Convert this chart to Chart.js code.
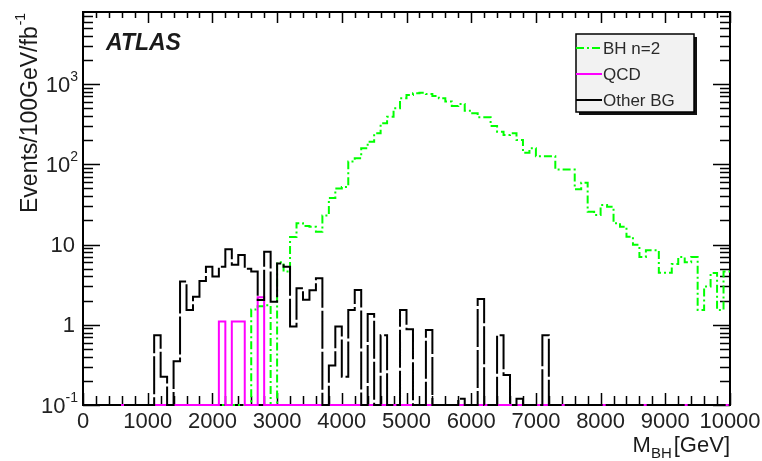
<!DOCTYPE html>
<html>
<head>
<meta charset="utf-8">
<script src="https://cdn.jsdelivr.net/npm/chart.js@4/dist/chart.umd.min.js"></script>
<style>
  body { margin: 0; background: #fff; }
  canvas { display: block; }
</style>
</head>
<body>
<canvas id="c" width="762" height="461"></canvas>
<script>
// 100 GeV bins, lower edges 0 ... 9900
var binLow = Array.from({ length: 100 }, function(_, i) { return i * 100; });
var xMax = 10000;

// BH n=2 signal
var bhN2 = [
    0, 0, 0, 0, 0, 0, 0, 0, 0, 0,
    0, 0, 0, 0, 0, 0, 0, 0, 0, 0,
    0, 0, 0, 0, 0, 0, 1.55, 1.7, 1.75, 0,
    6.0, 4.6, 12.4, 18.4, 17, 16.6, 14.4, 23, 38, 50,
    52, 108, 119, 158, 191, 243, 324, 391, 498, 664,
    730, 766, 777, 750, 709, 664, 605, 532, 563, 465,
    431, 385, 385, 300, 255, 231, 243, 200, 139, 158,
    126, 126, 126, 86, 86, 86, 49, 59, 25.6, 23.3,
    31, 29.6, 18.4, 16.7, 12.5, 9.9, 7.0, 8.5, 8.5, 4.45,
    4.45, 5.7, 7.0, 6.0, 7.0, 1.53, 3.0, 4.4, 1.53, 4.6
];

// QCD
var qcd = [
    0, 0, 0, 0, 0, 0, 0, 0, 0, 0,
    0, 0, 0, 0, 0, 0, 0, 0, 0, 0,
    0, 1.1, 0, 1.1, 1.1, 0, 0, 2.2, 0, 0,
    0, 0, 0, 0, 0, 0, 0, 0, 0, 0,
    0, 0, 0, 0, 0, 0, 0, 0, 0, 0,
    0, 0, 0, 0, 0, 0, 0, 0, 0, 0,
    0, 0, 0, 0, 0, 0, 0, 0, 0, 0,
    0, 0, 0, 0, 0, 0, 0, 0, 0, 0,
    0, 0, 0, 0, 0, 0, 0, 0, 0, 0,
    0, 0, 0, 0, 0, 0, 0, 0, 0, 0
];

// other backgrounds
var otherBG = [
    0, 0, 0, 0, 0, 0, 0, 0, 0, 0,
    0, 0.74, 0.225, 0, 0.35, 3.45, 1.53, 2.24, 3.5, 5.3,
    4.0, 5.3, 8.7, 5.6, 7.4, 5.0, 4.6, 2.03, 8.1, 1.94,
    5.8, 5.3, 0.95, 2.85, 2.05, 2.7, 3.8, 0, 0.31, 0.95,
    0.225, 1.53, 2.71, 0, 1.36, 0, 0.74, 0, 0, 1.53,
    0.88, 0, 0, 0.86, 0, 0, 0, 0, 0.12, 0,
    0, 2.1, 0, 0, 0.74, 0.236, 0, 0.12, 0, 0,
    0, 0.74, 0, 0, 0, 0, 0, 0, 0, 0,
    0, 0, 0, 0, 0, 0, 0, 0, 0, 0,
    0, 0, 0, 0, 0, 0, 0, 0, 0, 0
];

var xTicks = [0, 1000, 2000, 3000, 4000, 5000, 6000, 7000, 8000, 9000, 10000];
var yTicks = [0.1, 1, 10, 100, 1000];
var yMin = 0.1, yMax = 7900;

var FONT = '"Liberation Sans", Arial, Helvetica, sans-serif';

// empty bins sit on the axis, like ROOT draws them
function histPoints(vals) {
    var pts = binLow.map(function(x, i) {
        return { x: x, y: vals[i] > 0 ? vals[i] : yMin };
    });
    pts.push({ x: xMax, y: pts[pts.length - 1].y });
    return pts;
}

// frame + inward ticks (drawn under the histograms)
var framePlugin = {
    id: 'frame',
    beforeDatasetsDraw: function(chart) {
        var ctx = chart.ctx, a = chart.chartArea;
        var xs = chart.scales.x, ys = chart.scales.y;
        ctx.save();
        ctx.strokeStyle = '#000';
        ctx.lineWidth = 2;
        ctx.strokeRect(a.left, a.top, a.right - a.left, a.bottom - a.top);

        ctx.lineWidth = 1.5;
        ctx.beginPath();
        for (var v = 0; v <= xMax; v += 200) {
            var px = Math.round(xs.getPixelForValue(v)) + 0.5;
            var major = v % 1000 === 0;
            ctx.moveTo(px, a.bottom);
            ctx.lineTo(px, a.bottom - (major ? 12 : 9));
            ctx.moveTo(px, a.top);
            ctx.lineTo(px, a.top + (major ? 11 : 6));
        }
        for (var e = -1; e <= 3; e++) {
            for (var m = 1; m <= 9; m++) {
                var val = m * Math.pow(10, e);
                if (val > yMax) break;
                var py = Math.round(ys.getPixelForValue(val)) + 0.5;
                var len = m === 1 ? 17 : 10;
                ctx.moveTo(a.left, py);
                ctx.lineTo(a.left + len, py);
                ctx.moveTo(a.right, py);
                ctx.lineTo(a.right - len, py);
            }
        }
        ctx.stroke();

        // y tick labels with superscripts
        ctx.fillStyle = '#222';
        ctx.textBaseline = 'middle';
        yTicks.forEach(function(t) {
            var py = ys.getPixelForValue(t);
            var exp = Math.round(Math.log10(t));
            var right = 78;
            if (exp === 0 || exp === 1) {
                ctx.font = '22px ' + FONT;
                ctx.textAlign = 'right';
                ctx.fillText(exp === 0 ? '1' : '10', right - 3, py + 1);
            } else {
                var sup = exp < 0 ? '-' + (-exp) : String(exp);
                ctx.font = '14px ' + FONT;
                var ws = ctx.measureText(sup).width;
                ctx.textAlign = 'right';
                ctx.fillText(sup, right, py - 7);
                ctx.font = '22px ' + FONT;
                ctx.fillText('10', right - ws, py + 2);
            }
        });
        ctx.restore();
    }
};

// titles, ATLAS label and the legend box
var textPlugin = {
    id: 'texts',
    afterDraw: function(chart) {
        var ctx = chart.ctx, a = chart.chartArea;
        ctx.save();
        ctx.fillStyle = '#1a1a1a';
        ctx.textBaseline = 'alphabetic';
        ctx.textAlign = 'left';

        // y title
        ctx.save();
        ctx.translate(37, 213);
        ctx.rotate(-Math.PI / 2);
        ctx.font = '23px ' + FONT;
        var yt = 'Events/100GeV/fb';
        ctx.fillText(yt, 0, 0);
        var w = ctx.measureText(yt).width;
        ctx.font = '14px ' + FONT;
        ctx.fillText('-1', w + 1, -12);
        ctx.restore();

        // x title
        ctx.font = '22px ' + FONT;
        var wM = ctx.measureText('M').width;
        var wG = ctx.measureText('[GeV]').width;
        ctx.font = '15px ' + FONT;
        var wB = ctx.measureText('BH').width;
        var x0 = a.right - (wM + wB + wG + 2);
        ctx.font = '22px ' + FONT;
        ctx.fillText('M', x0, 452);
        ctx.font = '15px ' + FONT;
        ctx.fillText('BH', x0 + wM, 458);
        ctx.font = '22px ' + FONT;
        ctx.fillText('[GeV]', x0 + wM + wB + 2, 452);

        // ATLAS
        ctx.font = 'italic bold 23px ' + FONT;
        ctx.fillText('ATLAS', 106, 50);

        // legend
        var lx = 576, ly = 34, lw = 118, lh = 78;
        ctx.fillStyle = '#111';
        ctx.fillRect(lx + 3, ly + 3, lw, lh);
        ctx.fillStyle = '#f2f2f2';
        ctx.fillRect(lx, ly, lw, lh);
        ctx.strokeStyle = '#000';
        ctx.lineWidth = 1.5;
        ctx.strokeRect(lx, ly, lw, lh);

        var entries = chart.data.datasets;
        var rows = [48, 74, 100];
        entries.forEach(function(ds, i) {
            ctx.beginPath();
            ctx.setLineDash(ds.borderDash || []);
            ctx.strokeStyle = ds.borderColor;
            ctx.lineWidth = 2;
            ctx.moveTo(lx, rows[i]);
            ctx.lineTo(lx + 26, rows[i]);
            ctx.stroke();
            ctx.setLineDash([]);
            ctx.fillStyle = '#2a2a2a';
            ctx.font = '17px ' + FONT;
            ctx.textBaseline = 'middle';
            ctx.fillText(ds.label, lx + 27, rows[i] + 1);
        });
        ctx.restore();
    }
};

new Chart(document.getElementById('c'), {
    type: 'line',
    data: {
        datasets: [{
            label: 'BH n=2',
            data: histPoints(bhN2),
            borderColor: '#00ff00',
            borderDash: [8, 3, 2, 3],
            clip: 3,
            order: 3
        }, {
            label: 'QCD',
            data: histPoints(qcd),
            borderColor: '#ff00ff',
            clip: 3,
            order: 2
        }, {
            label: 'Other BG',
            data: histPoints(otherBG),
            borderColor: '#000000',
            borderDash: [38, 3],
            clip: 3,
            order: 1
        }]
    },
    options: {
        responsive: false,
        animation: false,
        events: [],
        layout: { padding: { top: 12, right: 32, bottom: 0, left: 0 } },
        elements: {
            line: { stepped: 'before', borderWidth: 2, tension: 0, fill: false },
            point: { radius: 0 }
        },
        plugins: { legend: { display: false }, tooltip: { enabled: false } },
        scales: {
            x: {
                type: 'linear',
                min: 0,
                max: xMax,
                grid: { display: false, drawTicks: false },
                border: { display: false },
                ticks: {
                    autoSkip: false,
                    maxRotation: 0,
                    padding: 4,
                    color: '#222',
                    font: { family: FONT, size: 22 },
                    callback: function(v) { return String(v); }
                },
                afterBuildTicks: function(s) {
                    s.ticks = xTicks.map(function(v) { return { value: v }; });
                },
                afterFit: function(s) {
                    s.height = 56;
                    s.paddingLeft = 0;
                    s.paddingRight = 0;
                }
            },
            y: {
                type: 'logarithmic',
                min: yMin,
                max: yMax,
                grid: { display: false, drawTicks: false },
                border: { display: false },
                ticks: { display: false },
                afterBuildTicks: function(s) {
                    s.ticks = yTicks.map(function(v) { return { value: v }; });
                },
                afterFit: function(s) {
                    s.width = 83;
                    s.paddingTop = 0;
                    s.paddingBottom = 0;
                }
            }
        }
    },
    plugins: [framePlugin, textPlugin]
});
</script>
</body>
</html>
